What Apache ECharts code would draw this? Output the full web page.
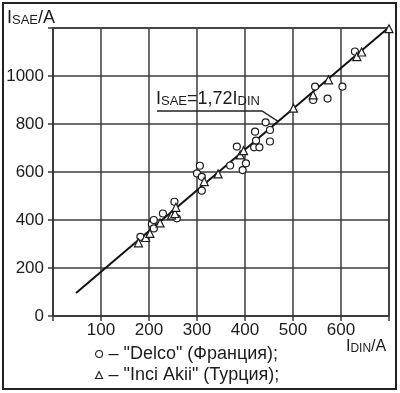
<!DOCTYPE html>
<html><head><meta charset="utf-8">
<script src="https://cdn.jsdelivr.net/npm/echarts@6/dist/echarts.min.js"></script>
<style>html,body{margin:0;padding:0;background:#fff}#c{width:400px;height:393px}</style>
</head><body><div id="c"></div>
<script>
// Delco (France) – circles
const delcoX = [182, 206, 210, 210, 229, 258, 253, 300, 306, 310, 310, 369, 383, 402, 395, 421, 423, 419, 430, 443, 452, 452, 546, 542, 572, 603, 629];
const delcoY = [330, 383, 400, 365, 427, 407, 476, 594, 626, 580, 522, 627, 706, 636, 608, 768, 731, 703, 703, 807, 775, 727, 956, 900, 906, 956, 1102];
// Inci Akii (Turkey) – triangles
const inciX = [178, 193, 202, 223, 247, 254, 256, 315, 344, 390, 397, 501, 542, 574, 633, 643, 700];
const inciY = [305, 327, 344, 388, 420, 427, 453, 560, 592, 671, 689, 866, 921, 984, 1081, 1100, 1197];
// regression line I_SAE = 1,72 I_DIN (end points)
const lineX = [48, 700];
const lineY = [96, 1203];
const xTickMin = 0, xTickMax = 700, xStep = 100;
const yTickMin = 0, yTickMax = 1200, yStep = 200;
const seriesNames = ['\u2013 "Delco" (Франция);', '\u2013 "Inci Akii" (Турция);'];

const FONT = '"Liberation Sans", Arial, sans-serif';
const INK = '#1c1c1c';
const GRIDC = '#3a3a3a';
const zip = (a, b) => a.map((v, i) => [v, b[i]]);

const chart = echarts.init(document.getElementById('c'), null, {renderer: 'canvas'});
const option = {
  animation: false,
  backgroundColor: '#fff',
  grid: {left: 53, right: 11, top: 28, bottom: 77, show: true, borderColor: GRIDC, borderWidth: 1.5, backgroundColor: 'transparent'},
  xAxis: {
    type: 'value', min: xTickMin, max: xTickMax, interval: xStep,
    axisLine: {show: true, lineStyle: {color: GRIDC, width: 1.5}},
    axisTick: {show: true, length: 5, lineStyle: {color: GRIDC, width: 1.5}},
    splitLine: {show: true, lineStyle: {color: GRIDC, width: 1.5}},
    axisLabel: {color: INK, fontFamily: FONT, fontSize: 17, margin: 6,
      formatter: v => (v === xTickMin || v === xTickMax) ? '' : String(v)}
  },
  yAxis: {
    type: 'value', min: yTickMin, max: yTickMax, interval: yStep,
    axisLine: {show: true, lineStyle: {color: GRIDC, width: 1.5}},
    axisTick: {show: true, length: 5, lineStyle: {color: GRIDC, width: 1.5}},
    splitLine: {show: true, lineStyle: {color: GRIDC, width: 1.5}},
    axisLabel: {color: INK, fontFamily: FONT, fontSize: 17, margin: 9,
      formatter: v => (v === yTickMax) ? '' : String(v)}
  },
  legend: {
    orient: 'vertical', left: 90, top: 340, itemGap: 3, itemWidth: 7, itemHeight: 7,
    textStyle: {color: INK, fontFamily: FONT, fontSize: 18, padding: [0, 0, 0, 1]},
    data: [
      {name: seriesNames[0], icon: 'circle', itemStyle: {color: '#fff', borderColor: INK, borderWidth: 1.1}},
      {name: seriesNames[1], icon: 'triangle', itemStyle: {color: '#fff', borderColor: INK, borderWidth: 1.1}}
    ]
  },
  series: [
    {type: 'line', name: 'fit', data: zip(lineX, lineY), symbol: 'none', lineStyle: {color: '#111', width: 2}, z: 3},
    {type: 'scatter', name: seriesNames[0], data: zip(delcoX, delcoY), symbol: 'circle', symbolSize: 7,
      itemStyle: {color: '#fff', borderColor: INK, borderWidth: 1.2, opacity: 1}, z: 4},
    {type: 'scatter', name: seriesNames[1], data: zip(inciX, inciY), symbol: 'triangle', symbolSize: 8,
      itemStyle: {color: '#fff', borderColor: INK, borderWidth: 1.2, opacity: 1}, z: 5}
  ]
};
chart.setOption(option);

// annotation leader line ends on the regression line
const anchorX = 469;
const t = (anchorX - lineX[0]) / (lineX[1] - lineX[0]);
const anchor = chart.convertToPixel({gridIndex: 0}, [anchorX, lineY[0] + t * (lineY[1] - lineY[0])]);
const rich = (big, small) => ({
  a: {fontSize: big, fontFamily: FONT, fill: INK, verticalAlign: 'bottom', lineHeight: big + 2},
  s: {fontSize: small, fontFamily: FONT, fill: INK, verticalAlign: 'bottom', lineHeight: big + 2}
});
chart.setOption({
  graphic: [
    {type: 'rect', shape: {x: 3, y: 3, width: 393, height: 386}, style: {fill: 'none', stroke: '#222', lineWidth: 2}, silent: true},
    {type: 'text', left: 7, top: 9, style: {text: '{a|I}{s|SAE}{a|/A}', rich: rich(18, 13)}},
    {type: 'text', left: 346, top: 339, style: {text: '{a|I}{s|DIN}{a|/A}', rich: rich(16, 12)}},
    {type: 'text', left: 156, top: 90, style: {text: '{a|I}{s|SAE}{a|=1,72I}{s|DIN}', rich: rich(18, 13)}},
    {type: 'polyline', shape: {points: [[157, 111], [262, 111], anchor]}, style: {stroke: '#222', lineWidth: 1.3, fill: 'none'}}
  ]
});
</script></body></html>
